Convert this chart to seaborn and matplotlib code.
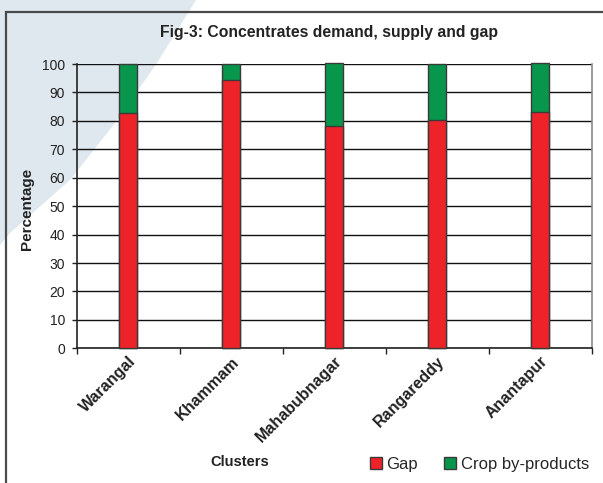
import matplotlib
matplotlib.use("Agg")
import matplotlib.pyplot as plt
import seaborn as sns
import pandas as pd
from matplotlib.patches import Polygon, Rectangle, Patch
from matplotlib.ticker import FixedLocator

clusters = ["Warangal", "Khammam", "Mahabubnagar", "Rangareddy", "Anantapur"]
gap = [82.8, 94.4, 78.2, 80.2, 83.2]
crop = [17.2, 5.6, 22.2, 19.8, 17.3]
yticks = [0, 10, 20, 30, 40, 50, 60, 70, 80, 90, 100]

RED = "#ee2229"
GREEN = "#07964b"
EDGE = "#3a3a3a"

sns.set_theme(style="white")
plt.rcParams["font.family"] = ["Liberation Sans", "DejaVu Sans"]

W, H = 603, 483
fig = plt.figure(figsize=(W / 100, H / 100), dpi=100)
fig.patch.set_facecolor("white")

# decorative background swoosh (figure pixel coords -> fraction)
pts = [(0, 0), (196, 0), (157, 63), (115, 123), (70, 180), (10, 233), (0, 245)]
fig.patches.append(Polygon([(x / W, 1 - y / H) for x, y in pts], closed=True,
                           transform=fig.transFigure, facecolor="#dfe8ee",
                           edgecolor="none", zorder=-3))
# figure frame
fig.patches.append(Rectangle((6 / W, -0.05), 1.2, 1 - 12 / H + 0.05,
                             transform=fig.transFigure, facecolor="none",
                             edgecolor="#4a4a4a", linewidth=1.6, zorder=-2))

ax = fig.add_axes([76.7 / W, 1 - 348.3 / H, (591.7 - 76.7) / W, (348.3 - 64) / H])
ax.set_facecolor("none")

df = pd.DataFrame({"Clusters": clusters, "Gap": gap,
                   "Total": [g + c for g, c in zip(gap, crop)]})

sns.barplot(data=df, x="Clusters", y="Total", color=GREEN, width=0.175,
            edgecolor=EDGE, linewidth=1.0, saturation=1, ax=ax, zorder=3)
sns.barplot(data=df, x="Clusters", y="Gap", color=RED, width=0.175,
            edgecolor=EDGE, linewidth=1.0, saturation=1, ax=ax, zorder=4)
for p in ax.patches:
    p.set_clip_on(False)

ax.set_xlim(-0.5, 4.5)
ax.set_ylim(0, 100)
ax.set_yticks(yticks)
ax.set_yticklabels([str(v) for v in yticks], fontsize=10, color="#222222")
ax.yaxis.grid(True, color="#111111", linewidth=1.0, zorder=0)
ax.set_axisbelow(True)

ax.set_xticks(range(len(clusters)))
ax.set_xticklabels(clusters, rotation=45, ha="right", rotation_mode="anchor",
                   fontsize=11.5, fontweight="bold", color="#222222")
ax.xaxis.set_minor_locator(FixedLocator([-0.5, 0.5, 1.5, 2.5, 3.5, 4.5]))
ax.tick_params(axis="x", which="major", length=0, pad=4)
ax.tick_params(axis="x", which="minor", length=4, width=1, color="#222222",
               direction="out", bottom=True)
ax.tick_params(axis="y", length=3.5, width=1, color="#222222", direction="out",
               left=True, pad=5)

for s in ["left", "bottom"]:
    ax.spines[s].set_color("#222222")
    ax.spines[s].set_linewidth(1.2)
ax.spines["right"].set_color("#8a8a8a")
ax.spines["right"].set_linewidth(1.2)
ax.spines["top"].set_visible(False)

ax.set_xlabel("")
ax.set_ylabel("")
fig.text(27 / W, 1 - 209 / H, "Percentage", rotation=90, ha="center", va="center",
         fontsize=11, fontweight="bold", color="#222222")

fig.text(329 / W, 1 - 32 / H, "Fig-3: Concentrates demand, supply and gap",
         ha="center", va="center", fontsize=11.3, fontweight="bold",
         color="#222222")
fig.text(240 / W, 1 - 462 / H, "Clusters", ha="center", va="center",
         fontsize=10.5, fontweight="bold", color="#222222")

handles = [Patch(facecolor=RED, edgecolor=EDGE), Patch(facecolor=GREEN, edgecolor=EDGE)]
fig.legend(handles, ["Gap", "Crop by-products"], loc="center left",
           bbox_to_anchor=(358 / W, 1 - 464 / H), ncol=2, frameon=False,
           fontsize=12, handlelength=0.72, handleheight=0.72, handletextpad=0.25,
           columnspacing=1.62, borderpad=0.2)

fig.savefig("out.png", dpi=100)
